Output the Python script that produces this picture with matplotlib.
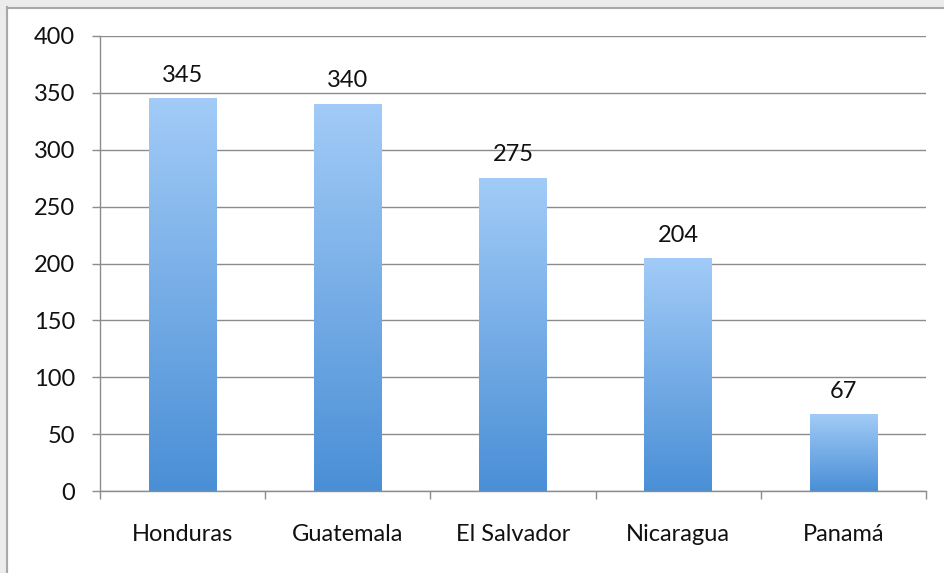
import numpy as np
import matplotlib
matplotlib.use("Agg")
import matplotlib.pyplot as plt
from matplotlib.colors import LinearSegmentedColormap
from matplotlib.lines import Line2D
from matplotlib.patches import Rectangle

categories = ["Honduras", "Guatemala", "El Salvador", "Nicaragua", "Panamá"]
values = [345, 340, 275, 204, 67]
yticks = [0, 50, 100, 150, 200, 250, 300, 350, 400]

plt.rcParams['font.family'] = ['Lato', 'DejaVu Sans']
FS = 17

fig = plt.figure(figsize=(9.45, 5.73), dpi=100)
# light gray margin at top/left
fig.add_artist(Rectangle((0, 1 - 7/573), 1, 7/573, transform=fig.transFigure, color='#ececec', zorder=0))
fig.add_artist(Rectangle((0, 0), 7/945, 1, transform=fig.transFigure, color='#ececec', zorder=0))

ax = fig.add_axes([100/945, 1-491/573, 826/945, (491-36)/573])

x = np.arange(len(categories))
bars = ax.bar(x, values, width=0.41, color='none', zorder=2)
cmap = LinearSegmentedColormap.from_list("g", ["#4a8fd6", "#a2cbf7"])
grad = np.linspace(0, 1, 256).reshape(-1, 1)
for b, v in zip(bars, values):
    x0 = b.get_x(); w = b.get_width()
    ax.imshow(grad, extent=[x0, x0 + w, 0, v], origin='lower', cmap=cmap,
              aspect='auto', zorder=2, interpolation='bicubic')
    ax.text(b.get_x() + w/2, v + 15, str(v), ha='center', va='baseline',
            fontsize=FS, color='#111111')

ax.set_xlim(-0.5, len(categories) - 0.5)
ax.set_ylim(0, 400)
ax.set_yticks(yticks)
ax.set_yticklabels([str(t) for t in yticks], fontsize=FS, color='#111111')
ax.yaxis.grid(True, color='#8c8c8c', linewidth=1.0, zorder=0)
ax.set_axisbelow(True)
ax.set_xticks(x)
ax.set_xticklabels(categories, fontsize=FS, color='#111111')
ax.tick_params(axis='x', length=0, pad=24)
ax.set_xticks(np.arange(len(categories) + 1) - 0.5, minor=True)
ax.tick_params(axis='x', which='minor', length=6, color='#8c8c8c', width=1)
ax.tick_params(axis='y', length=6, color='#8c8c8c', width=1, pad=12)
for s in ['top', 'right']:
    ax.spines[s].set_visible(False)
for s in ['left', 'bottom']:
    ax.spines[s].set_color('#8c8c8c')
    ax.spines[s].set_linewidth(1)

# figure border (left and top)
fig.add_artist(Line2D([7.5/945, 7.5/945], [0, 1 - 7/573], transform=fig.transFigure, color='#a8a8a8', lw=1.5))
fig.add_artist(Line2D([7/945, 1], [1 - 7.5/573, 1 - 7.5/573], transform=fig.transFigure, color='#a8a8a8', lw=1.5))

fig.savefig("out.png", dpi=100)
